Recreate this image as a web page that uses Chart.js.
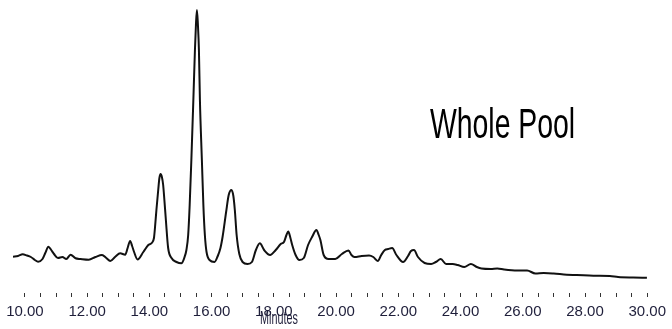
<!DOCTYPE html>
<html>
<head>
<meta charset="utf-8">
<script src="https://cdn.jsdelivr.net/npm/chart.js@4/dist/chart.umd.min.js"></script>
<style>
  html, body { margin: 0; padding: 0; background: #fff; }
  #wrap { width: 672px; height: 329px; position: relative; }
</style>
</head>
<body>
<div id="wrap"><canvas id="chrom"></canvas></div>
<script>
// retention time (minutes) and detector response (arbitrary units)
const retentionTimes = [
  9.617, 9.777, 9.927, 10.064, 10.191, 10.319, 10.424, 10.565, 10.654, 10.756,
  10.845, 10.935, 11.062, 11.203, 11.330, 11.467, 11.627, 11.786, 12.051, 12.265,
  12.478, 12.616, 12.743, 12.903, 13.062, 13.222, 13.301, 13.381, 13.445, 13.509,
  13.620, 13.805, 13.965, 14.073, 14.147, 14.179, 14.226, 14.284, 14.322, 14.360,
  14.402, 14.443, 14.482, 14.530, 14.603, 14.711, 14.871, 15.030, 15.120, 15.190,
  15.247, 15.295, 15.349, 15.413, 15.464, 15.496, 15.528, 15.560, 15.592, 15.624,
  15.687, 15.735, 15.783, 15.837, 15.933, 16.093, 16.198, 16.284, 16.357, 16.466,
  16.549, 16.638, 16.699, 16.746, 16.804, 16.890, 16.995, 17.155, 17.295, 17.423,
  17.550, 17.687, 17.879, 18.061, 18.220, 18.325, 18.405, 18.463, 18.533, 18.590,
  18.699, 18.820, 18.963, 19.100, 19.228, 19.368, 19.442, 19.496, 19.601, 19.761,
  19.974, 20.185, 20.399, 20.494, 20.590, 20.823, 21.059, 21.196, 21.340, 21.451,
  21.569, 21.675, 21.802, 21.939, 22.153, 22.313, 22.408, 22.504, 22.632, 22.845,
  23.056, 23.206, 23.365, 23.534, 23.748, 23.907, 24.121, 24.332, 24.523, 24.673,
  24.970, 25.183, 25.397, 25.821, 26.140, 26.405, 26.673, 26.992, 27.416, 27.735,
  28.268, 28.797, 29.065, 29.544, 29.990
];
const detectorSignal = [
  36.3, 37, 38.7, 37.5, 36, 33, 31.3, 34, 40, 46.3,
  43, 39, 35, 36, 34, 38.3, 34.7, 34, 33.3, 36,
  38, 35, 32, 36.3, 39.7, 38.3, 45, 52, 47, 41,
  33.5, 41, 48, 50, 55, 65, 83, 103, 115, 119,
  116, 108, 93, 73, 45, 35, 31, 29.7, 35, 43,
  58, 88, 133, 193, 243, 268, 283, 268, 243, 193,
  133, 88, 58, 41, 33, 31, 37, 45, 57, 81,
  98, 103, 97, 83, 58, 39, 31, 29, 31, 43,
  49.7, 43, 38, 43, 49, 51, 58, 61.5, 55, 48,
  38, 33, 35, 48, 56, 63, 58, 53, 38, 34,
  34, 39, 42.5, 38, 36, 37, 37.5, 36, 32, 38,
  43, 44, 45, 38, 31, 37, 42, 43, 36, 30,
  29, 31, 34, 29, 29, 28, 26, 29, 26, 24.5,
  24, 24.5, 23.5, 22.5, 22.5, 19.5, 20, 19.5, 18.3, 18,
  17.3, 17, 16, 15.5, 15.3
];
const tickLabels = ['10.00', '12.00', '14.00', '16.00', '18.00', '20.00',
                    '22.00', '24.00', '26.00', '28.00', '30.00'];
const axisTitle = 'Minutes';
const sampleName = 'Whole Pool';

const points = retentionTimes.map((t, i) => ({ x: t, y: detectorSignal[i] }));

const textPlugin = {
  id: 'chromText',
  afterDraw(chart) {
    const ctx = chart.ctx;
    ctx.save();
    ctx.fillStyle = '#000';
    ctx.textBaseline = 'alphabetic';
    ctx.font = '43px "Liberation Sans", Arial, sans-serif';
    ctx.translate(430, 138);
    ctx.scale(0.66, 1);
    ctx.fillText(sampleName, 0, 0);
    ctx.restore();

    ctx.save();
    ctx.fillStyle = '#1e1e3a';
    ctx.font = '18px "Liberation Sans", Arial, sans-serif';
    ctx.translate(260, 324);
    ctx.scale(0.6, 1);
    ctx.fillText(axisTitle, 0, 0);
    ctx.restore();
  }
};

new Chart(document.getElementById('chrom'), {
  type: 'line',
  data: {
    datasets: [{
      data: points,
      borderColor: '#111',
      borderWidth: 2,
      pointRadius: 0,
      fill: false,
      cubicInterpolationMode: 'monotone'
    }]
  },
  options: {
    responsive: true,
    maintainAspectRatio: false,
    animation: false,
    layout: { padding: { left: 12, right: 21, top: 0, bottom: 2 } },
    plugins: { legend: { display: false }, tooltip: { enabled: false } },
    scales: {
      x: {
        type: 'linear',
        min: 9.617,
        max: 30,
        border: { display: false },
        grid: {
          drawOnChartArea: false,
          drawTicks: true,
          tickLength: 4,
          color: '#333',
          lineWidth: 1
        },
        ticks: {
          stepSize: 0.5,
          includeBounds: false,
          autoSkip: false,
          maxRotation: 0,
          padding: 6,
          color: '#1e1e3a',
          font: { family: '"Liberation Sans Narrow", "Arial Narrow", "Liberation Sans", sans-serif', size: 15 },
          callback: function (value) {
            const label = Number(value).toFixed(2);
            return tickLabels.includes(label) ? label : '';
          }
        }
      },
      y: {
        display: false,
        min: 0,
        max: 293
      }
    }
  },
  plugins: [textPlugin]
});
</script>
</body>
</html>
